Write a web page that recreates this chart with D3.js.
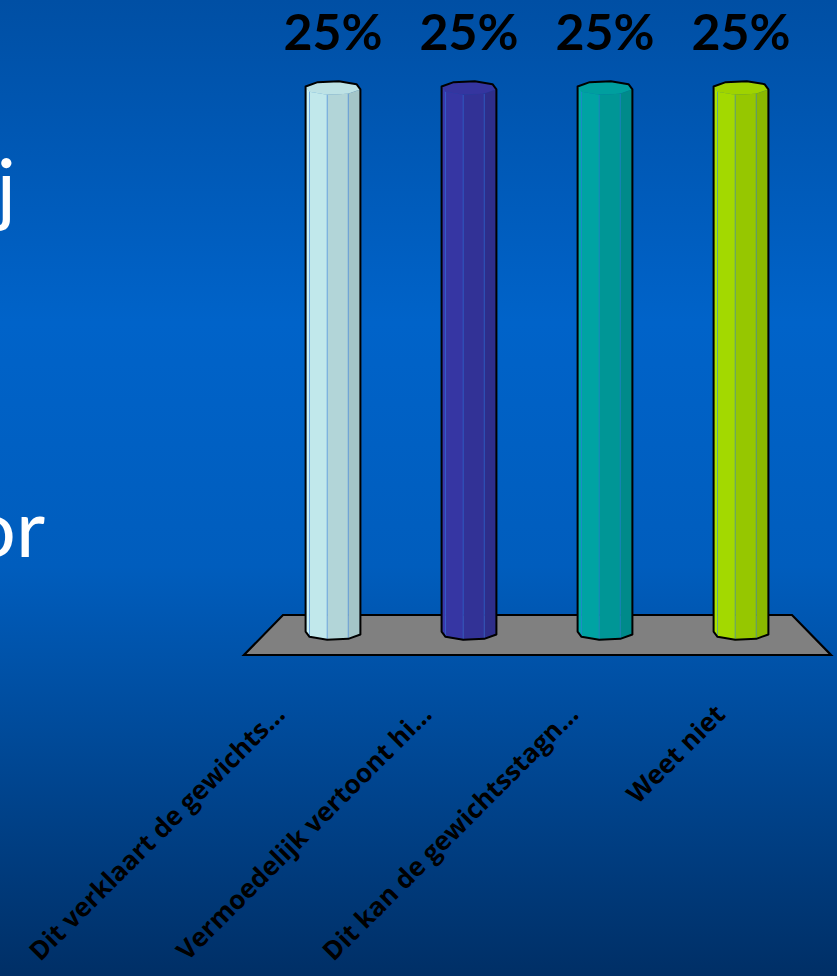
<!DOCTYPE html>
<html>
<head>
<meta charset="utf-8">
<script src="https://cdn.jsdelivr.net/npm/d3@7"></script>
<style>
html,body{margin:0;padding:0;overflow:hidden;}
svg{display:block;}
</style>
</head>
<body>
<script>
// ---- data ----
const categories = ["Dit verklaart de gewichts…", "Vermoedelijk vertoont hi…", "Dit kan de gewichtsstagn…", "Weet niet"];
const values = [0.25, 0.25, 0.25, 0.25];
const valueLabels = ["25%", "25%", "25%", "25%"];
const barColors = ["#b6dadd", "#333399", "#009999", "#99cc00"];
const slideText = ["j", "or"];

// ---- layout ----
const W = 837, H = 976;
const svg = d3.select("body").append("svg").attr("width", W).attr("height", H);

const defs = svg.append("defs");
const bg = defs.append("linearGradient").attr("id", "bg").attr("x1", 0).attr("y1", 0).attr("x2", 0).attr("y2", 1);
[["0%", "#004fa4"], ["33%", "#0063c9"], ["58%", "#005dbd"], ["100%", "#002f66"]].forEach(s =>
  bg.append("stop").attr("offset", s[0]).attr("stop-color", s[1]));
svg.append("rect").attr("width", W).attr("height", H).attr("fill", "url(#bg)");

// background slide text (cut off at left, as in the slide)
svg.append("text").attr("x", 16).attr("y", 216).attr("text-anchor", "end")
  .attr("font-family", "Lato, 'Open Sans', sans-serif").attr("font-size", 80).attr("fill", "#fff").text(slideText[0]);
svg.append("text").attr("x", 45).attr("y", 557).attr("text-anchor", "end")
  .attr("font-family", "Lato, 'Open Sans', sans-serif").attr("font-size", 80).attr("fill", "#fff").text(slideText[1]);

// scales
const x = d3.scaleBand().domain(categories).range([265, 809]).padding(0);
const xBack = d3.scaleBand().domain(categories).range([283, 792]).padding(0);
const xFront = d3.scaleBand().domain(categories).range([244, 831]).padding(0);
const y = d3.scaleLinear().domain([0, 0.25]).range([633, 88]);
const floorBackY = 615, floorFrontY = 655;

// floor
const floorPts = [[xBack.range()[0], floorBackY], [xBack.range()[1], floorBackY],
                  [xFront.range()[1], floorFrontY], [xFront.range()[0], floorFrontY]];
svg.append("path").attr("d", "M" + floorPts.join("L") + "Z")
  .attr("fill", "#808080").attr("stroke", "#000").attr("stroke-width", 2.2).attr("stroke-linejoin", "miter");

// cylinders (octagonal prisms)
const nSides = 8, angOff = 12 * Math.PI / 180;
const rx = x.bandwidth() * 0.206, ry = 7;
const bars = svg.append("g");
categories.forEach((c, i) => {
  const cx = x(c) + x.bandwidth() / 2;
  const yT = y(values[i]), yB = y(0);
  const ang = d3.range(nSides).map(k => angOff + k * 2 * Math.PI / nSides);
  const top = ang.map(a => [cx + rx * Math.cos(a), yT + ry * Math.sin(a)]);
  const bot = ang.map(a => [cx + rx * Math.cos(a), yB + ry * Math.sin(a)]);
  const hull = d3.polygonHull(top.concat(bot));
  const g = bars.append("g");
  const base = d3.color(barColors[i]);
  g.append("path").attr("d", "M" + top.join("L") + "Z").attr("fill", base.brighter(0.1));
  for (let k = 0; k < nSides; k++) {
    const k2 = (k + 1) % nSides;
    const mid = ang[k] + Math.PI / nSides;
    if (Math.sin(mid) <= 0) continue;
    const shade = -Math.cos(mid);
    const col = shade >= 0 ? base.brighter(shade * 0.3) : base.darker(-shade * 0.35);
    g.append("path").attr("d", "M" + [top[k], top[k2], bot[k2], bot[k]].join("L") + "Z")
      .attr("fill", col).attr("stroke", col).attr("stroke-width", 0.5);
  }
  for (let k = 0; k < nSides; k++) {
    if (Math.sin(ang[k]) <= 0.05) continue;
    g.append("line").attr("x1", top[k][0]).attr("y1", top[k][1]).attr("x2", bot[k][0]).attr("y2", bot[k][1])
      .attr("stroke", "rgba(50,120,220,0.55)").attr("stroke-width", 1);
  }
  g.append("path").attr("d", "M" + hull.join("L") + "Z").attr("fill", "none")
    .attr("stroke", "#000").attr("stroke-width", 2).attr("stroke-linejoin", "round");

  svg.append("text").attr("x", cx).attr("y", 50).attr("text-anchor", "middle")
    .attr("font-family", "Lato, 'Open Sans', sans-serif").attr("font-weight", 700)
    .attr("font-size", 50).attr("fill", "#000").text(valueLabels[i]);
});

// category labels (rotated)
categories.forEach((c) => {
  const tx = xFront(c) + xFront.bandwidth() / 2 - 31, ty = 716;
  svg.append("text").attr("transform", `translate(${tx},${ty}) rotate(-45)`)
    .attr("text-anchor", "end")
    .attr("font-family", "'Open Sans', sans-serif").attr("font-weight", 700)
    .attr("font-size", 26).attr("fill", "#000").text(c);
});
</script>
</body>
</html>
